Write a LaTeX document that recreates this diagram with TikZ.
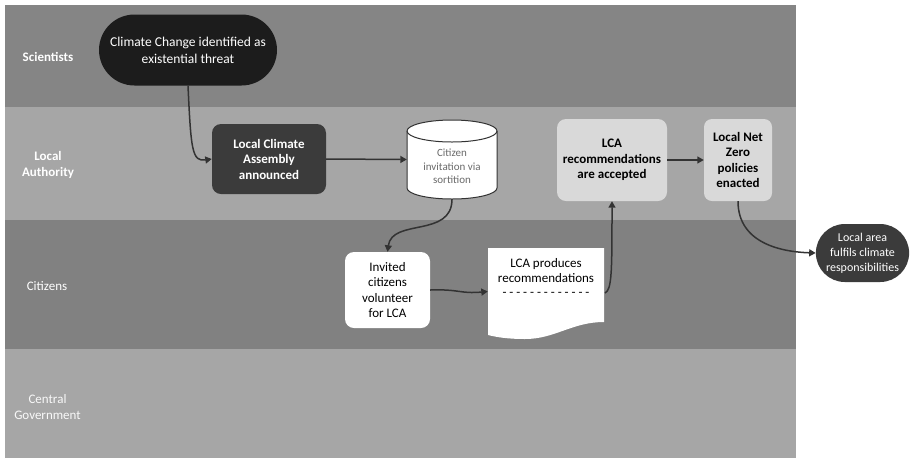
\documentclass[tikz,border=0pt]{standalone}
\usepackage{fontspec}
\setmainfont{Carlito}
\usetikzlibrary{arrows.meta,shapes.misc}
\definecolor{lanedark}{HTML}{858585}
\definecolor{lanelight}{HTML}{A6A6A6}
\definecolor{nodeblack}{HTML}{1C1C1C}
\definecolor{nodedark}{HTML}{3B3B3B}
\definecolor{nodelight}{HTML}{D9D9D9}
\definecolor{linecol}{HTML}{333333}
\definecolor{cyltext}{HTML}{6A6A6A}
\tikzset{
  lanelabel/.style={text=white, font=\fontsize{13}{16}\selectfont, align=center},
  arr/.style={draw=linecol, line width=1.5pt, -{Triangle[length=6.5pt,width=7pt]}},
  box/.style={rounded corners=9pt, align=center, font=\fontsize{13}{15.5}\selectfont\bfseries, inner sep=2pt},
  stadium/.style={rounded rectangle, align=center, inner sep=2pt},
}
\begin{document}
\begin{tikzpicture}[x=1pt,y=-1pt]
\useasboundingbox (0,0) rectangle (911,459);
\fill[white] (0,0) rectangle (911,459);
% lanes
\fill[lanedark] (5,5) rectangle (796,107);
\fill[lanelight] (5,107) rectangle (796,220);
\fill[lanedark!97!black] (5,220) rectangle (796,349);
\fill[lanelight] (5,349) rectangle (796,458);
% lane labels
\node[lanelabel, font=\fontsize{13}{16}\selectfont\bfseries] (lsci) at (48,57) {Scientists};
\node[lanelabel, font=\fontsize{13}{16}\selectfont\bfseries] (lla) at (48,165) {Local\\Authority};
\node[lanelabel] (lcit) at (47,286) {Citizens};
\node[lanelabel, text=white!95!gray] (lcg) at (47.5,407) {Central\\Government};
% nodes
\node[stadium, fill=nodeblack, text=white, minimum width=182pt, minimum height=71pt,
      font=\fontsize{13.5}{17}\selectfont] (cc) at (188,50) {Climate Change identified as\\existential threat};
\node[box, fill=nodedark, text=white, minimum width=114pt, minimum height=70pt] (lca) at (269,159) {Local Climate\\Assembly\\announced};
% cylinder
\node[minimum width=90pt, minimum height=79pt, inner sep=0pt] (cyl) at (452,159.5) {};
\draw[fill=white, draw=linecol, line width=1pt]
  (407,131) -- (407,188) arc[start angle=180, end angle=360, x radius=45pt, y radius=11pt]
  -- (497,131) arc[start angle=0, end angle=180, x radius=45pt, y radius=11pt] -- cycle;
\draw[draw=linecol, line width=1pt] (407,131) arc[start angle=180, end angle=360, x radius=45pt, y radius=11pt];
\node[text=cyltext, align=center, font=\fontsize{11}{13.5}\selectfont] (cyltxt) at (452,166.5) {Citizen\\invitation via\\sortition};
\node[box, fill=nodelight, text=black, minimum width=110pt, minimum height=82pt] (acc) at (612,160) {LCA\\recommendations\\are accepted};
\node[box, fill=nodelight, text=black, minimum width=68pt, minimum height=82pt, rounded corners=8pt] (nz) at (738,160) {Local Net\\Zero\\policies\\enacted};
\node[stadium, fill=nodedark, text=white, minimum width=93pt, minimum height=58pt,
      font=\fontsize{12}{15}\selectfont] (la) at (862.5,253) {Local area\\fulfils climate\\responsibilities};
\node[box, fill=white, text=black, minimum width=85pt, minimum height=76pt,
      font=\fontsize{13}{15.6}\selectfont] (inv) at (387.5,290) {Invited\\citizens\\volunteer\\for LCA};
% document
\node[minimum width=116pt, minimum height=87pt, inner sep=0pt] (doc) at (546,291.5) {};
\fill[white] (488,248) -- (604,248) -- (604,322)
  .. controls (572,322) and (555,339) .. (525,339)
  .. controls (507,339) and (496,337) .. (488,335) -- cycle;
\node[align=center, font=\fontsize{13}{15.5}\selectfont] (doctxt) at (546,277) {LCA produces\\recommendations\\[-2pt]- - - - - - - - - - - - -};
% connectors
\draw[arr] (cc.south) .. controls (191,150) and (192,162) .. (lca.west);
\draw[arr] (lca.east) -- (cyl.west);
\draw[arr] (cyl.south) .. controls (452,238) and (392,218) .. (inv.north);
\draw[arr] (inv.east) .. controls (460,289) and (460,294) .. (doc.west);
\draw[arr] (605,293) .. controls (612,290) and (612,270) .. (acc.south);
\draw[arr] (acc.east) -- (nz.west);
\draw[arr] (nz.south) .. controls (738,245) and (785,252) .. (la.west);
\end{tikzpicture}
\end{document}
